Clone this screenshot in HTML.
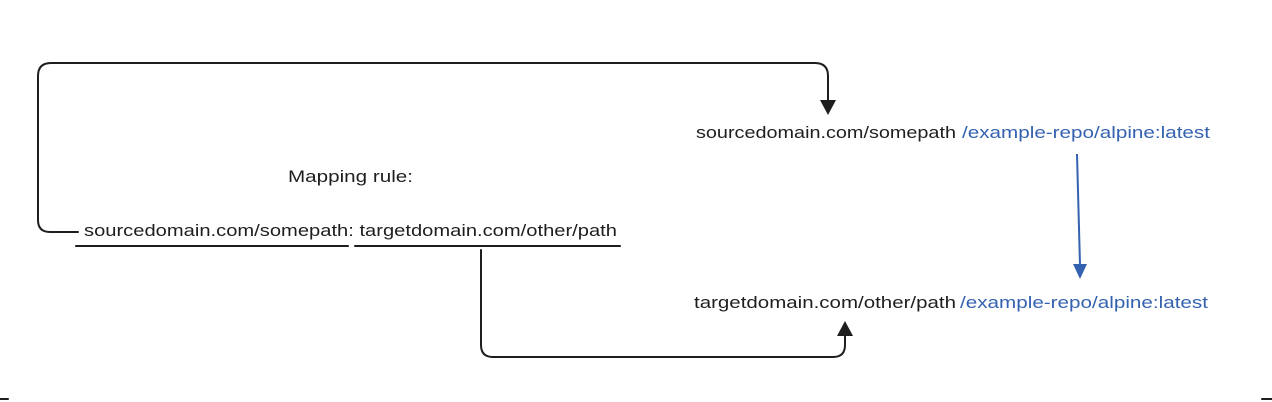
<!DOCTYPE html>
<html><head><meta charset="utf-8"><style>
body{margin:0;background:#fff;}
svg{display:block}
text{font-family:"Liberation Sans",sans-serif;font-size:16.5px;fill:#1e1e1e}
.b{fill:#3462b0}
</style></head><body>
<svg width="1272" height="402" viewBox="0 0 1272 402">
<g fill="none" stroke="#1e1e1e" stroke-width="2" stroke-linecap="round">
<path d="M78 232 H50 Q38 232 38 220 V76 Q38 63 51 63 H815 Q828 63 828 76 V100"/>
<path d="M481 250 V345 Q481 357 493 357 H833 Q845 357 845 345 V336"/>
<path d="M76 246 H348 M355 246 H620"/>
<path d="M0 399 H8 M1262 399 H1272"/>
</g>
<path d="M820 100 L836 100 L828 115 Z" fill="#1e1e1e"/>
<path d="M837 336 L853 336 L845 321 Z" fill="#1e1e1e"/>
<path d="M1077 154 L1080 265" stroke="#3462b0" stroke-width="2"/>
<path d="M1073 264 L1087 264 L1080 279 Z" fill="#3462b0"/>
<text x="288" y="182" textLength="125" lengthAdjust="spacingAndGlyphs">Mapping rule:</text>
<text x="84" y="236" textLength="533" lengthAdjust="spacingAndGlyphs">sourcedomain.com/somepath: targetdomain.com/other/path</text>
<text x="696" y="138" textLength="260" lengthAdjust="spacingAndGlyphs">sourcedomain.com/somepath</text>
<text class="b" x="962" y="138" textLength="248" lengthAdjust="spacingAndGlyphs">/example-repo/alpine:latest</text>
<text x="694" y="308" textLength="262" lengthAdjust="spacingAndGlyphs">targetdomain.com/other/path</text>
<text class="b" x="960" y="308" textLength="248" lengthAdjust="spacingAndGlyphs">/example-repo/alpine:latest</text>
</svg>
</body></html>
